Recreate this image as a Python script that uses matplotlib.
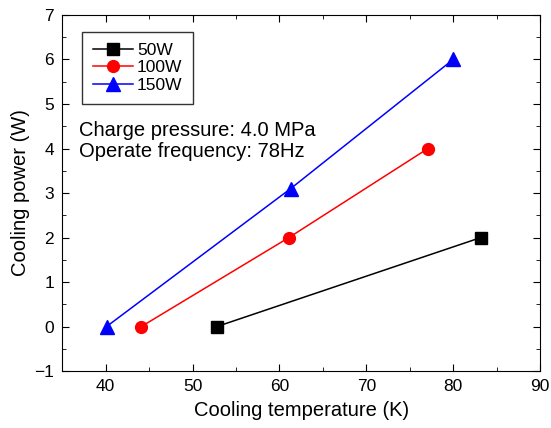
import matplotlib.pyplot as plt
from matplotlib.ticker import MultipleLocator

plt.rcParams['font.family'] = ['Liberation Sans', 'DejaVu Sans']

# cooling temperature (K) and cooling power (W) for each input power
t_50 = [52.8, 83.2]
p_50 = [0, 2]
t_100 = [44.1, 61.1, 77.1]
p_100 = [0, 2, 4]
t_150 = [40.1, 61.3, 80.0]
p_150 = [0, 3.1, 6]

fig = plt.figure(figsize=(5.51, 4.28), dpi=100)
ax = fig.add_axes([0.113, 0.133, 0.867, 0.832])

ax.plot(t_50, p_50, '-s', color='black', markersize=8, linewidth=1.1, label='50W')
ax.plot(t_100, p_100, '-o', color='red', markersize=8.5, linewidth=1.1, label='100W')
ax.plot(t_150, p_150, '-^', color='blue', markersize=10, linewidth=1.1, label='150W')

ax.set_xlim(35, 90)
ax.set_ylim(-1, 7)
ax.xaxis.set_major_locator(MultipleLocator(10))
ax.xaxis.set_minor_locator(MultipleLocator(5))
ax.yaxis.set_major_locator(MultipleLocator(1))
ax.yaxis.set_minor_locator(MultipleLocator(0.5))
ax.tick_params(which='both', direction='in', top=True, right=True, labelsize=12.5)
ax.tick_params(which='major', length=5, pad=6)
ax.tick_params(which='minor', length=3)

ax.set_xlabel('Cooling temperature (K)', fontsize=14.5, labelpad=5)
ax.set_ylabel('Cooling power (W)', fontsize=14.5, labelpad=3)

ax.legend(loc='upper left', bbox_to_anchor=(0.042, 0.952), fontsize=12.5,
          frameon=True, fancybox=False, edgecolor='black', handlelength=2.3,
          borderpad=0.6, labelspacing=0.15, handletextpad=0.25, borderaxespad=0)
ax.text(0.035, 0.66, 'Charge pressure: 4.0 MPa', transform=ax.transAxes, fontsize=14.5)
ax.text(0.035, 0.601, 'Operate frequency: 78Hz', transform=ax.transAxes, fontsize=14.5)

fig.savefig('out.png', dpi=100)
